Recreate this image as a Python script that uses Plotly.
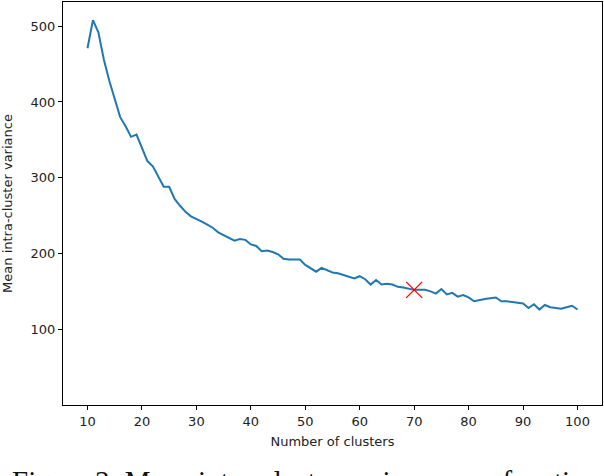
import plotly.graph_objects as go

clusters = list(range(10, 101))
variance = [471, 508, 492, 456, 428, 403, 380, 368, 354, 357,
            339, 322, 315, 302, 288, 288, 272, 263, 255, 249,
            246, 242, 238, 234, 228, 224, 220, 217, 219, 218,
            212, 210, 203, 204, 202, 199, 193, 192, 192, 192,
            185, 180, 176, 181, 178, 175, 174, 172, 170, 167,
            170, 166, 159, 165, 159, 160, 159, 156, 155, 153,
            152, 152, 152, 150, 147, 153, 146, 148, 143, 145,
            142, 137, 139, 140, 141, 142, 137, 137, 136, 135,
            134, 128, 133, 126, 132, 129, 128, 127, 129, 131, 126]
best_k = [70]
best_v = [152]

x_ticks = [10, 20, 30, 40, 50, 60, 70, 80, 90, 100]
y_ticks = [100, 200, 300, 400, 500]

font = dict(family="DejaVu Sans", size=13, color="#222222")

fig = go.Figure()
fig.add_trace(go.Scatter(x=clusters, y=variance, mode="lines",
                         line=dict(color="#1f77b4", width=2), showlegend=False))
fig.add_trace(go.Scatter(x=best_k, y=best_v, mode="markers",
                         marker=dict(symbol="x-thin", size=16, color="red",
                                     line=dict(color="red", width=1.3)),
                         showlegend=False))

axis_common = dict(showgrid=False, zeroline=False, showline=True, linecolor="black",
                   linewidth=1, mirror=True, ticks="outside", ticklen=4,
                   tickcolor="black", tickfont=font, automargin=False)

fig.update_layout(
    width=604, height=476,
    margin=dict(l=63, r=2, t=2, b=71),
    plot_bgcolor="white", paper_bgcolor="white",
    font=font,
    xaxis=dict(range=[5.5, 104.5], tickvals=x_ticks,
               title=dict(text="Number of clusters", font=font, standoff=9),
               **axis_common),
    yaxis=dict(range=[0, 532], tickvals=y_ticks,
               title=dict(text="Mean intra-cluster variance", font=font, standoff=15),
               **axis_common),
)

fig.add_annotation(text="Figure 3: Mean intra-cluster variance as a function of the number of clusters",
                   xref="paper", yref="paper", x=-0.099, y=-0.143,
                   xanchor="left", yanchor="top", showarrow=False,
                   font=dict(family="Liberation Serif", size=29, color="#111111"))

fig.write_html("out.html", config={"displayModeBar": False},
               post_script="document.body.style.margin='0';document.body.style.overflow='hidden';")
